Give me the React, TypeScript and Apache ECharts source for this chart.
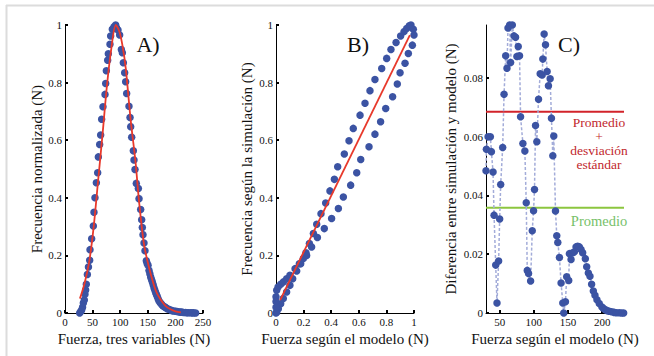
import React, { useEffect, useRef } from "react";
import * as echarts from "echarts";

// ---------- Panel A: histogram (dots) and model (red line) ----------
const xA = [26.6, 28.5, 30.2, 31.8, 33.2, 35.0, 36.2, 37.4, 38.6, 40.5, 42.5, 44.7, 45.3, 48.3, 51.3, 52.5, 54.3, 56.8, 59.2, 60.4, 62.8, 64.6, 66.4, 68.8, 72.5, 73.7, 74.9, 77.3, 78.5, 81.5, 82.7, 85.7, 88.8, 91.8, 93.5, 96.0, 99.0, 102.1, 103.9, 105.7, 108.1, 109.9, 111.7, 115.9, 117.8, 119.0, 120.8, 123.8, 125.0, 126.8, 129.2, 132.9, 134.1, 137.1, 138.9, 140.1, 141.3, 143.1, 144.9, 147.3, 148.8, 150.4, 152.2, 153.7, 155.2, 156.7, 158.2, 159.7, 161.2, 162.8, 164.3, 165.8, 167.3, 168.8, 170.3, 172.5, 174.5, 176.3, 178.5, 180.5, 182.4, 185, 188, 191.4, 194, 197, 200.5, 203, 206, 209.5, 212, 215, 218.6, 221, 224, 227.7, 230, 233, 236.7];
const yA = [0.0, 0.005, 0.01, 0.02, 0.035, 0.045, 0.065, 0.08, 0.1, 0.134, 0.16, 0.183, 0.22, 0.258, 0.302, 0.35, 0.4, 0.452, 0.487, 0.542, 0.585, 0.618, 0.673, 0.716, 0.759, 0.797, 0.841, 0.878, 0.9, 0.933, 0.962, 0.985, 0.994, 1.0, 0.99, 0.983, 0.965, 0.915, 0.904, 0.869, 0.834, 0.803, 0.762, 0.718, 0.679, 0.647, 0.61, 0.563, 0.531, 0.498, 0.45, 0.432, 0.397, 0.359, 0.324, 0.297, 0.272, 0.243, 0.216, 0.181, 0.172, 0.166, 0.148, 0.136, 0.125, 0.116, 0.108, 0.098, 0.088, 0.079, 0.07, 0.063, 0.056, 0.049, 0.042, 0.036, 0.031, 0.027, 0.023, 0.021, 0.019, 0.015, 0.013, 0.01, 0.008, 0.007, 0.006, 0.005, 0.004, 0.003, 0.003, 0.002, 0.002, 0.001, 0.001, 0.001, 0.0005, 0.0003, 0.0002];
const xModelA = [27, 35, 44, 52, 60, 68, 76, 84, 92, 98, 104, 110, 119, 128, 134, 143, 152, 164, 172, 182, 192, 200, 210];
const yModelA = [0.05, 0.1, 0.18, 0.3, 0.46, 0.62, 0.79, 0.92, 1.0, 0.98, 0.93, 0.85, 0.67, 0.52, 0.39, 0.24, 0.16, 0.08, 0.05, 0.025, 0.012, 0.006, 0.002];

// ---------- Panel B: simulation vs model ----------
const xB = [0, 0.005, 0.015, 0.034, 0.053, 0.077, 0.101, 0.138, 0.169, 0.198, 0.217, 0.242, 0.271, 0.295, 0.326, 0.36, 0.391, 0.423, 0.447, 0.495, 0.529, 0.56, 0.609, 0.645, 0.681, 0.717, 0.766, 0.802, 0.833, 0.87, 0.903, 0.928, 0.947, 0.966, 0.978,
  0.995, 1.0, 0.988, 0.959, 0.935, 0.899, 0.879, 0.845, 0.795, 0.758, 0.717, 0.674, 0.614, 0.585, 0.541, 0.488, 0.452, 0.403, 0.35, 0.3, 0.258, 0.222, 0.179, 0.15, 0.121, 0.101, 0.077, 0.053, 0.034, 0.017, 0.005, 0, 0, 0];
const yB = [0.056, 0.079, 0.09, 0.1, 0.108, 0.119, 0.131, 0.154, 0.171, 0.189, 0.209, 0.241, 0.276, 0.308, 0.345, 0.382, 0.424, 0.464, 0.508, 0.552, 0.598, 0.641, 0.687, 0.728, 0.772, 0.811, 0.849, 0.884, 0.915, 0.939, 0.962, 0.977, 0.988, 0.997, 1.0,
  0.985, 0.965, 0.93, 0.901, 0.867, 0.834, 0.795, 0.751, 0.71, 0.664, 0.621, 0.577, 0.533, 0.487, 0.444, 0.403, 0.363, 0.328, 0.293, 0.262, 0.229, 0.2, 0.171, 0.146, 0.119, 0.096, 0.073, 0.05, 0.032, 0.015, 0.003, 0, 0.02, 0.04];
const xModelB = [0.03, 0.97];
const yModelB = [0.045, 0.965];

// ---------- Panel C: difference ----------
const xC = [30, 30.6, 33.0, 36.4, 37.9, 40.3, 41.8, 44.2, 46.1, 48.5, 50, 51.5, 54.4, 56.4, 58.8, 60.7, 62.2, 64.6, 66.0, 68.5, 70.9, 73.3, 75.2, 77.2, 79.1, 80.6, 84.0, 86.9, 88.9, 90.4, 92.3, 95.3, 97.7, 99.6, 101.0, 102.5, 104.4, 106.9, 109.3, 112.2, 113.2, 115.1, 117.1, 119.5, 121.4, 123.9, 125.8, 127.8, 129.2, 131.7, 133.6, 135.1, 137.5, 139.9, 142.4, 143.8, 146.3, 148.1, 151.1, 152.1, 154.5, 156.9, 159.4, 161.8, 164.2, 166.7, 169.1, 171.5, 175.4, 177.4, 179.8, 182.2, 184.6, 187.1, 189.5, 192.4, 195.8, 199.7, 202, 204.6, 207.5, 210.4, 214, 217.7, 221, 225, 228.5, 231.5];
const yC = [0.0484, 0.0557, 0.06, 0.06, 0.0549, 0.048, 0.0333, 0.0163, 0.0034, 0.0177, 0.032, 0.0437, 0.0563, 0.0744, 0.0875, 0.0833, 0.097, 0.098, 0.0852, 0.098, 0.0943, 0.0938, 0.0873, 0.0907, 0.0875, 0.0668, 0.0577, 0.0551, 0.0375, 0.0145, 0.0134, 0.0109, 0.028, 0.0348, 0.042, 0.0638, 0.0583, 0.0727, 0.0814, 0.081, 0.0864, 0.0949, 0.0913, 0.0822, 0.0773, 0.0797, 0.0663, 0.0535, 0.0602, 0.0347, 0.0263, 0.024, 0.0189, 0.0102, 0.0034, 0.0, 0.0038, 0.0123, 0.0111, 0.0202, 0.0182, 0.0205, 0.0208, 0.0225, 0.0227, 0.0225, 0.0216, 0.0205, 0.0185, 0.0157, 0.0136, 0.0125, 0.0098, 0.0075, 0.006, 0.0045, 0.0032, 0.002, 0.0015, 0.0011, 0.0008, 0.0006, 0.0004, 0.0002, 0.0001, 0.0001, 0.0, 0.0];
const meanC = 0.0358;
const meanPlusSdC = 0.0685;
const rangeC = [30, 232];
const yTicksC = [0, 0.02, 0.04, 0.06, 0.08];
const xTicksC = [50, 100, 150, 200];
const redNoteLines = ["Promedio", "+", "desviación", "estándar"];
const greenNote = "Promedio";

const FONT = "'Liberation Serif', 'Times New Roman', serif";
const BLUE = "#3b53a3";

function zip(xs: number[], ys: number[]) {
  return xs.map((x, i) => [x, ys[i]]);
}

const tickStyle = { show: true, inside: true, length: 3, lineStyle: { color: "#000", width: 2 } };
const labelStyle = { color: "#111", fontFamily: FONT, fontSize: 11, margin: 3 };

function axisBase(extra: any) {
  return {
    type: "value",
    axisLine: { show: true, lineStyle: { color: "#000", width: 1 } },
    axisTick: tickStyle,
    splitLine: { show: false },
    axisLabel: labelStyle,
    nameLocation: "middle",
    nameTextStyle: { color: "#111", fontFamily: FONT, fontSize: 15, fontWeight: "normal" },
    ...extra,
  };
}

export default function App() {
  const ref = useRef<HTMLDivElement>(null);
  useEffect(() => {
    if (!ref.current) return;
    const chart = echarts.init(ref.current, null, { renderer: "svg" });
    const top = 25;
    const height = 288;
    const textEl = (t: string, x: number, y: number, size: number, fill: string, extra: any = {}) => ({
      type: "text", x, y,
      style: { text: t, fontFamily: FONT, fontSize: size, fill, align: "center", verticalAlign: "middle", ...extra },
    });
    const option: any = {
      animation: false,
      backgroundColor: "#fff",
      textStyle: { fontFamily: FONT },
      grid: [
        { left: 65, top, width: 138, height, outerBoundsMode: "none" },
        { left: 276, top, width: 138, height, outerBoundsMode: "none" },
        { left: 486, top, width: 138, height, outerBoundsMode: "none" },
      ],
      xAxis: [
        axisBase({ gridIndex: 0, min: 0, max: 250, interval: 50, name: "Fuerza, tres variables (N)", nameGap: 10 }),
        axisBase({ gridIndex: 1, min: 0, max: 1, interval: 0.2, name: "Fuerza según el modelo (N)", nameGap: 10 }),
        axisBase({ gridIndex: 2, min: rangeC[0], max: rangeC[1], name: "Fuerza según el modelo (N)", nameGap: 10,
          axisLabel: { ...labelStyle, customValues: xTicksC },
          axisTick: { ...tickStyle, customValues: xTicksC } }),
      ],
      yAxis: [
        axisBase({ gridIndex: 0, min: 0, max: 1, interval: 0.2, name: "Frecuencia normalizada (N)", nameGap: 18 }),
        axisBase({ gridIndex: 1, min: 0, max: 1, interval: 0.2, name: "Frecuencia según la simulación (N)", nameGap: 22 }),
        axisBase({ gridIndex: 2, min: 0, max: 0.098, name: "Diferencia entre simulación y modelo (N)", nameGap: 28,
          axisLabel: { ...labelStyle, customValues: yTicksC },
          axisTick: { ...tickStyle, customValues: yTicksC } }),
      ],
      series: [
        { type: "scatter", xAxisIndex: 0, yAxisIndex: 0, data: zip(xA, yA), symbolSize: 7.5, itemStyle: { color: BLUE, opacity: 1 }, clip: false, z: 2 },
        { type: "line", xAxisIndex: 0, yAxisIndex: 0, data: zip(xModelA, yModelA), smooth: 0.3, showSymbol: false, symbol: "none", lineStyle: { color: "#e8392b", width: 1.8 }, clip: false, z: 3 },
        { type: "scatter", xAxisIndex: 1, yAxisIndex: 1, data: zip(xB, yB), symbolSize: 7.5, itemStyle: { color: BLUE, opacity: 1 }, clip: false, z: 2 },
        { type: "line", xAxisIndex: 1, yAxisIndex: 1, data: zip(xModelB, yModelB), showSymbol: false, symbol: "none", lineStyle: { color: "#e8392b", width: 1.8 }, clip: false, z: 3 },
        { type: "line", xAxisIndex: 2, yAxisIndex: 2, data: zip(rangeC, [meanPlusSdC, meanPlusSdC]), symbol: "none", lineStyle: { color: "#d2232a", width: 2 }, z: 1 },
        { type: "line", xAxisIndex: 2, yAxisIndex: 2, data: zip(rangeC, [meanC, meanC]), symbol: "none", lineStyle: { color: "#8cc63f", width: 2 }, z: 1 },
        { type: "line", xAxisIndex: 2, yAxisIndex: 2, data: zip(xC, yC), symbol: "circle", symbolSize: 7.5, showSymbol: true, itemStyle: { color: BLUE, opacity: 1 }, lineStyle: { color: "#a3acd9", width: 1.5, type: [3, 2] }, clip: false, z: 2 },
      ],
      graphic: [
        { type: "line", shape: { x1: 6, y1: 5.5, x2: 654, y2: 5.5 }, style: { stroke: "#dcdcdc", lineWidth: 2 } },
        { type: "line", shape: { x1: 6.5, y1: 5, x2: 6.5, y2: 356 }, style: { stroke: "#dcdcdc", lineWidth: 2 } },
        textEl("A)", 148, 44, 22, "#111"),
        textEl("B)", 358, 44, 22, "#111"),
        textEl("C)", 569, 44, 22, "#111"),
        textEl(redNoteLines.join("\n"), 599, 143, 13.5, "#c1272d", { lineHeight: 14 }),
        textEl(greenNote, 599, 220.7, 14.5, "#77c16a"),
      ],
    };
    chart.setOption(option);
    return () => chart.dispose();
  }, []);
  return <div ref={ref} style={{ position: "fixed", left: 0, top: 0, width: 654, height: 356 }} />;
}
